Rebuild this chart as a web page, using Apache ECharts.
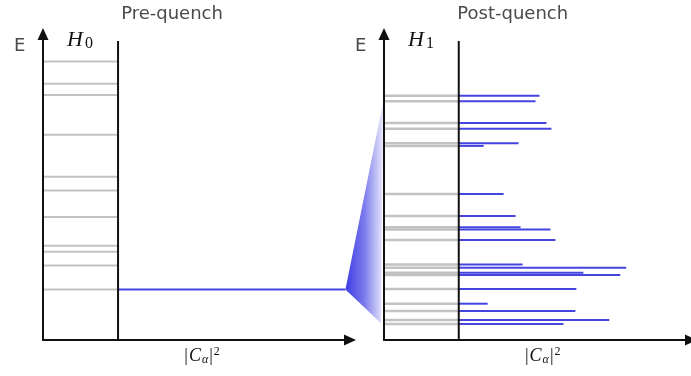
<!DOCTYPE html>
<html>
<head>
<meta charset="utf-8">
<script src="https://cdn.jsdelivr.net/npm/echarts@6/dist/echarts.min.js"></script>
<style>
  html, body { margin: 0; padding: 0; background: #fff; }
  #chart { width: 691px; height: 376px; }
</style>
</head>
<body>
<div id="chart"></div>
<script>
// Eigenlevels of the initial Hamiltonian H0 (energy, arbitrary units)
const preLevels = [9.28, 8.54, 8.17, 6.84, 5.44, 4.98, 4.10, 3.14, 2.94, 2.48, 1.68];
// Initial state before the quench: [energy, weight]
const preState = [1.68, 1];
// Eigenlevels of H1 and the overlaps |C_alpha|^2 of the initial state with them
const postLevels = [8.14, 7.96, 7.23, 7.04, 6.56, 6.47, 4.87, 4.13, 3.76, 3.68,
                    3.33, 2.52, 2.41, 2.24, 2.17, 1.70, 1.21, 0.97, 0.67, 0.53];
const postWeights = [0.81, 0.77, 0.88, 0.93, 0.60, 0.25, 0.45, 0.57, 0.62, 0.92,
                     0.97, 0.64, 1.68, 1.25, 1.62, 1.18, 0.29, 1.17, 1.51, 1.05];
// Energy window that the initial state spreads onto after the quench
const fanSpan = [7.90, 0.56];
const panelTitles = ['Pre-quench', 'Post-quench'];
const hamiltonians = ['0', '1'];

// Axis extents
const E_MAX = 10.2;
const DIVIDER_TOP = 9.97;
const preX = [-0.33, 1.02];
const postX = [-0.75, 2.33];

const AXIS_COLOR = '#111';
const LEVEL_COLOR = '#c2c2c2';
const WEIGHT_COLOR = '#4444df';
const TEXT_COLOR = '#4a4a4a';

const chart = echarts.init(document.getElementById('chart'), null, { renderer: 'canvas' });

function arrowAxisLine() {
  return {
    show: true,
    onZero: false,
    symbol: ['none', 'triangle'],
    symbolSize: [11, 12],
    lineStyle: { color: AXIS_COLOR, width: 2 }
  };
}

function valueAxis(gridIndex, min, max) {
  return {
    type: 'value', gridIndex, min, max, z: 5,
    axisLine: arrowAxisLine(),
    axisTick: { show: false },
    axisLabel: { show: false },
    splitLine: { show: false }
  };
}

// horizontal segment: value = [energy, xFrom, xTo]
function segment(color, width) {
  return function (params, api) {
    const e = api.value(0);
    const a = api.coord([api.value(1), e]);
    const b = api.coord([api.value(2), e]);
    return {
      type: 'line',
      shape: { x1: a[0], y1: a[1], x2: b[0], y2: b[1] },
      style: { stroke: color, lineWidth: width }
    };
  };
}

// vertical divider at |C|^2 = 0: value = [eFrom, eTo]
function divider(params, api) {
  const a = api.coord([0, api.value(0)]);
  const b = api.coord([0, api.value(1)]);
  return {
    type: 'line',
    shape: { x1: a[0], y1: a[1], x2: b[0], y2: b[1] },
    style: { stroke: AXIS_COLOR, lineWidth: 2 }
  };
}

function customSeries(idx, data, renderItem, z) {
  return {
    type: 'custom', xAxisIndex: idx, yAxisIndex: idx,
    data, renderItem, z, silent: true, clip: false
  };
}

const mathFont = '"Liberation Serif", "DejaVu Serif", serif';

const option = {
  animation: false,
  backgroundColor: '#fff',
  grid: [
    { left: 43, top: 34, width: 307, height: 306 },
    { left: 384, top: 34, width: 308, height: 306 }
  ],
  xAxis: [valueAxis(0, preX[0], preX[1]), valueAxis(1, postX[0], postX[1])],
  yAxis: [valueAxis(0, 0, E_MAX), valueAxis(1, 0, E_MAX)],
  series: [
    customSeries(0, preLevels.map(e => [e, preX[0], 0]), segment(LEVEL_COLOR, 2), 2),
    customSeries(0, [[preState[0], 0, preState[1]]], segment(WEIGHT_COLOR, 2), 2),
    customSeries(0, [[0, DIVIDER_TOP]], divider, 4),
    customSeries(1, postLevels.map(e => [e, postX[0], 0]), segment(LEVEL_COLOR, 2.5), 2),
    customSeries(1, postLevels.map((e, i) => [e, 0, postWeights[i]]), segment(WEIGHT_COLOR, 2), 2),
    customSeries(1, [[0, DIVIDER_TOP]], divider, 4)
  ]
};
chart.setOption(option);

// Panel texts and the spreading fan, placed from the axes' own scales
const graphics = [];
[0, 1].forEach(function (g) {
  const xs = g === 0 ? preX : postX;
  const origin = chart.convertToPixel({ gridIndex: g }, [xs[0], 0]);
  const inner = chart.convertToPixel({ gridIndex: g }, [0, 0]);
  graphics.push({
    type: 'text', x: inner[0] + 54, y: 14, z: 10,
    style: {
      text: panelTitles[g], fill: TEXT_COLOR, font: '18px "DejaVu Sans", sans-serif',
      align: 'center', verticalAlign: 'middle', textAlign: 'center', textVerticalAlign: 'middle'
    }
  });
  graphics.push({
    type: 'text', x: origin[0] - 29, y: 46, z: 10,
    style: {
      text: 'E', fill: TEXT_COLOR, font: '18px "DejaVu Sans", sans-serif',
      align: 'left', verticalAlign: 'middle', textAlign: 'left', textVerticalAlign: 'middle'
    }
  });
  graphics.push({
    type: 'text', x: origin[0] + 24, y: 40, z: 10,
    style: {
      text: '{h|H}{s|' + hamiltonians[g] + '}',
      fill: '#111',
      align: 'left', verticalAlign: 'middle', textAlign: 'left', textVerticalAlign: 'middle',
      rich: {
        h: { fontFamily: mathFont, fontStyle: 'italic', fontSize: 22, lineHeight: 24, fill: '#111' },
        s: { fontFamily: mathFont, fontSize: 16, lineHeight: 15, verticalAlign: 'bottom', fill: '#111', padding: [0, 0, 0, 2] }
      }
    }
  });
  graphics.push({
    type: 'text', x: inner[0] + 84, y: 356, z: 10,
    style: {
      text: '{n||}{c|C}{s|α}{n||}{p|2}',
      fill: '#111',
      align: 'center', verticalAlign: 'middle', textAlign: 'center', textVerticalAlign: 'middle',
      rich: {
        n: { fontFamily: mathFont, fontSize: 18, lineHeight: 20, fill: '#111' },
        c: { fontFamily: mathFont, fontStyle: 'italic', fontSize: 18, lineHeight: 20, fill: '#111', padding: [0, 1, 0, 1] },
        s: { fontFamily: mathFont, fontStyle: 'italic', fontSize: 12, lineHeight: 12, verticalAlign: 'bottom', fill: '#111', padding: [0, 1, 0, 0] },
        p: { fontFamily: mathFont, fontSize: 12, lineHeight: 12, verticalAlign: 'top', fill: '#111', padding: [0, 0, 0, 1] }
      }
    }
  });
});

const apex = chart.convertToPixel({ gridIndex: 0 }, [preState[1], preState[0]]);
const fanTop = chart.convertToPixel({ gridIndex: 1 }, [postX[0] - 0.01, fanSpan[0]]);
const fanBottom = chart.convertToPixel({ gridIndex: 1 }, [postX[0] - 0.03, fanSpan[1]]);
graphics.push({
  type: 'polygon', z: 1, silent: true,
  shape: { points: [apex, fanTop, fanBottom] },
  style: {
    fill: {
      type: 'linear', x: 0, y: 0, x2: 1, y2: 0,
      colorStops: [
        { offset: 0, color: 'rgba(60, 60, 228, 1)' },
        { offset: 0.5, color: 'rgba(60, 60, 228, 0.68)' },
        { offset: 1, color: 'rgba(60, 60, 228, 0.12)' }
      ]
    }
  }
});

chart.setOption({ graphic: { elements: graphics } });
</script>
</body>
</html>
